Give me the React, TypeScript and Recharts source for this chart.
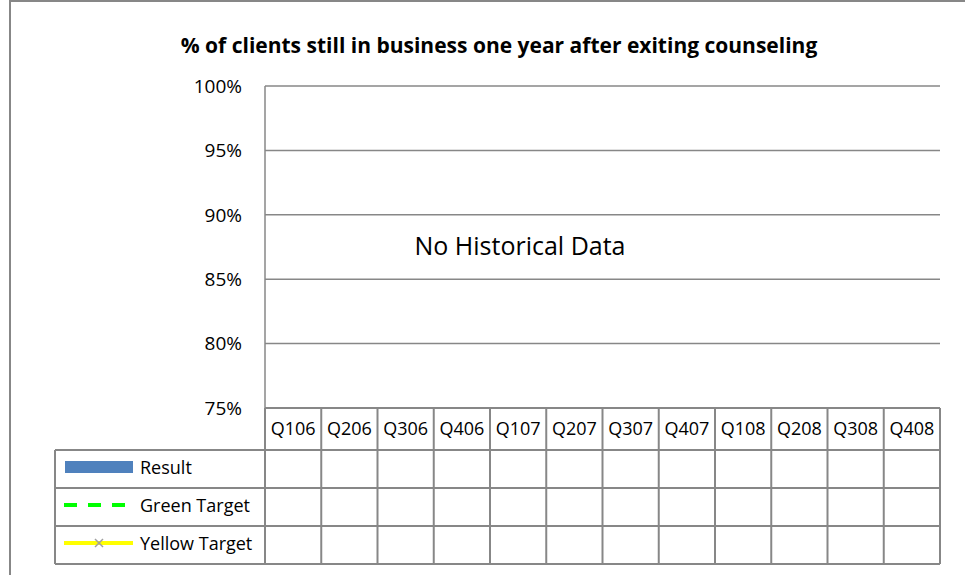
import { ComposedChart, Bar, Line, XAxis, YAxis, CartesianGrid } from 'recharts';

const quarters = ['Q106', 'Q206', 'Q306', 'Q406', 'Q107', 'Q207', 'Q307', 'Q407', 'Q108', 'Q208', 'Q308', 'Q408'];
// no historical data: every cell is empty
const resultValues: (number | null)[] = [null, null, null, null, null, null, null, null, null, null, null, null];
const greenTarget: (number | null)[] = [null, null, null, null, null, null, null, null, null, null, null, null];
const yellowTarget: (number | null)[] = [null, null, null, null, null, null, null, null, null, null, null, null];
const yTicks = [0.75, 0.8, 0.85, 0.9, 0.95, 1];

const data = quarters.map((q, i) => ({
  quarter: q,
  result: resultValues[i],
  green: greenTarget[i],
  yellow: yellowTarget[i],
}));

const FONT = '"Open Sans", sans-serif';
const LINE = '#878787';
const W = 965;
const H = 575;
const PLOT_LEFT = 265;
const PLOT_RIGHT = 940;
const PLOT_TOP = 86;
const PLOT_BOTTOM = 408;
const LEGEND_LEFT = 55;
const ROWS = [450, 488, 526, 564];

const colW = (PLOT_RIGHT - PLOT_LEFT) / quarters.length;

// each x tick draws its column of the data table
function TableTick(props: any) {
  const { x, index, payload } = props;
  const left = x - colW / 2;
  return (
    <g>
      <text x={x} y={428} textAnchor="middle" dominantBaseline="central" fontSize={18} fontFamily={FONT} fill="#000">
        {payload.value}
      </text>
      <line x1={left} y1={PLOT_BOTTOM} x2={left} y2={ROWS[3]} stroke={LINE} strokeWidth={2} />
      {index === quarters.length - 1 && (
        <line x1={left + colW} y1={PLOT_BOTTOM} x2={left + colW} y2={ROWS[3]} stroke={LINE} strokeWidth={2} />
      )}
      {index === 0 && (
        <g>
          {ROWS.map((y) => (
            <line key={y} x1={LEGEND_LEFT} y1={y} x2={PLOT_RIGHT} y2={y} stroke={LINE} strokeWidth={2} />
          ))}
          <line x1={LEGEND_LEFT} y1={ROWS[0]} x2={LEGEND_LEFT} y2={ROWS[3]} stroke={LINE} strokeWidth={2} />
          {/* legend keys */}
          <rect x={65} y={461} width={68} height={12} fill="#4F81BD" />
          <text x={140} y={467} dominantBaseline="central" fontSize={18} fontFamily={FONT}>Result</text>
          <line x1={64} y1={505} x2={127} y2={505} stroke="#00FF00" strokeWidth={4} strokeDasharray="13 11" />
          <text x={140} y={505} dominantBaseline="central" fontSize={18} fontFamily={FONT}>Green Target</text>
          <line x1={64} y1={543} x2={133} y2={543} stroke="#FFFF00" strokeWidth={4} />
          <path d="M95,539 L103,547 M103,539 L95,547" stroke="#A0A0A0" strokeWidth={1.5} />
          <text x={140} y={543} dominantBaseline="central" fontSize={18} fontFamily={FONT}>Yellow Target</text>
        </g>
      )}
    </g>
  );
}

export default function App() {
  return (
    <div style={{ position: 'absolute', left: 0, top: 0, width: W, height: H, background: '#fff', fontFamily: FONT }}>
      <div style={{ position: 'absolute', left: 9, top: 0, right: 0, bottom: 0, borderLeft: '2px solid #878787', borderTop: '2px solid #878787' }} />
      <div style={{ position: 'absolute', left: 0, width: 998, top: 30, textAlign: 'center', fontSize: 21, fontWeight: 700, lineHeight: '30px' }}>
        % of clients still in business one year after exiting counseling
      </div>
      <div style={{ position: 'absolute', left: 0, width: 1040, top: 228, textAlign: 'center', fontSize: 25, lineHeight: '34px' }}>
        No Historical Data
      </div>
      <ComposedChart
        width={W}
        height={H}
        data={data}
        margin={{ top: PLOT_TOP, right: W - PLOT_RIGHT, left: PLOT_LEFT - 60, bottom: 0 }}
        style={{ position: 'absolute', left: 0, top: 0 }}
      >
        <CartesianGrid vertical={false} stroke={LINE} strokeWidth={1.5} />
        <XAxis
          dataKey="quarter"
          axisLine={{ stroke: LINE, strokeWidth: 2 }}
          tickLine={false}
          tick={<TableTick />}
          interval={0}
          height={H - PLOT_BOTTOM}
        />
        <YAxis
          domain={[0.75, 1]}
          ticks={yTicks}
          width={60}
          tickFormatter={(v: number) => `${Math.round(v * 100)}%`}
          tick={{ fontSize: 19, fontFamily: FONT, fill: '#000' }}
          tickSize={0}
          tickMargin={23}
          axisLine={{ stroke: LINE, strokeWidth: 1.5 }}
          tickLine={false}
          allowDataOverflow
        />
        <Bar dataKey="result" name="Result" fill="#4F81BD" isAnimationActive={false} />
        <Line dataKey="green" name="Green Target" stroke="#00FF00" strokeDasharray="8 6" strokeWidth={3} dot={false} isAnimationActive={false} />
        <Line dataKey="yellow" name="Yellow Target" stroke="#FFFF00" strokeWidth={3} isAnimationActive={false} />
      </ComposedChart>
    </div>
  );
}
